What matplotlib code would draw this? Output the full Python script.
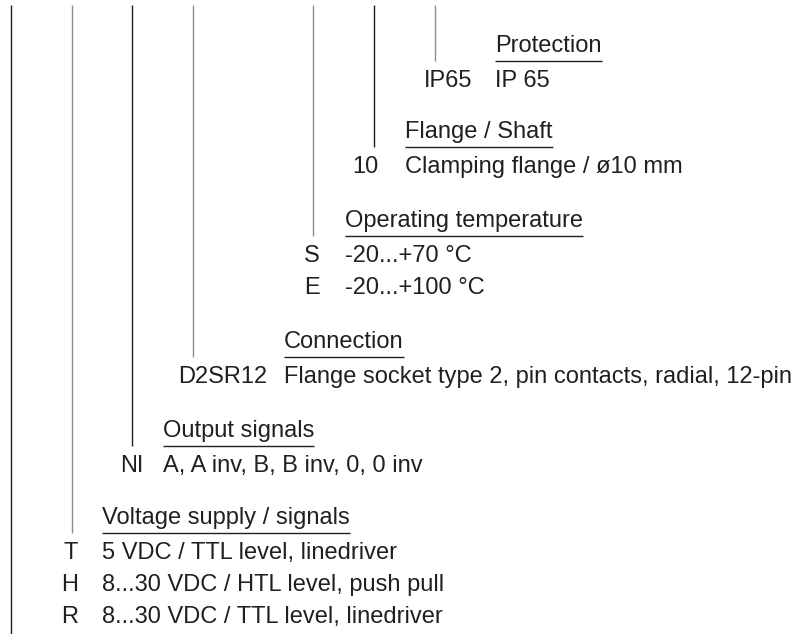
import matplotlib
matplotlib.use('Agg')
import matplotlib.pyplot as plt

plt.rcParams['font.family'] = ['Liberation Sans', 'DejaVu Sans']

# ordering key: one block per position of the type code, right to left
headers = ['Protection', 'Flange / Shaft', 'Operating temperature',
           'Connection', 'Output signals', 'Voltage supply / signals']
codes = [['IP65'], ['10'], ['S', 'E'], ['D2SR12'], ['NI'], ['T', 'H', 'R']]
descriptions = [
    ['IP 65'],
    ['Clamping flange / ø10 mm'],
    ['-20...+70 °C', '-20...+100 °C'],
    ['Flange socket type 2, pin contacts, radial, 12-pin'],
    ['A, A inv, B, B inv, 0, 0 inv'],
    ['5 VDC / TTL level, linedriver', '8...30 VDC / HTL level, push pull',
     '8...30 VDC / TTL level, linedriver'],
]

# layout in pixels (origin top left)
line_x = [435, 374, 313, 193, 132, 72]
line_col = ['#8c8c8c', '#231f20', '#8c8c8c', '#8c8c8c', '#231f20', '#8c8c8c']
rule_y = [61, 147, 236, 357, 446, 533]
head_x = [495, 405, 345, 284, 163, 102]
code_x = [472, 378, 320, 267, 143, 78]
row_step = 32
ink = '#231f20'
fs = 17

fig = plt.figure(figsize=(8.02, 6.34), dpi=100)
ax = fig.add_axes([0, 0, 1, 1])
ax.set_xlim(0, 802)
ax.set_ylim(634, 0)
ax.axis('off')

# leftmost guide line continues past the bottom
ax.plot([11, 11], [5, 634], color=ink, lw=1, solid_capstyle='butt')

head_texts = []
for i, head in enumerate(headers):
    ax.plot([line_x[i], line_x[i]], [5, rule_y[i]], color=line_col[i], lw=1,
            solid_capstyle='butt')
    t = ax.text(head_x[i], rule_y[i] - 9, head, fontsize=fs, color=ink,
                ha='left', va='baseline')
    head_texts.append(t)
    for j, (c, d) in enumerate(zip(codes[i], descriptions[i])):
        y = rule_y[i] + 26 + j * row_step
        ax.text(code_x[i], y, c, fontsize=fs, color=ink, ha='right',
                va='baseline')
        ax.text(head_x[i], y, d, fontsize=fs, color=ink, ha='left',
                va='baseline')

# underline each header to its text width
fig.canvas.draw()
inv = ax.transData.inverted()
for i, t in enumerate(head_texts):
    bb = t.get_window_extent()
    x1 = inv.transform((bb.x1, bb.y0))[0]
    ax.plot([head_x[i], x1], [rule_y[i], rule_y[i]], color=ink, lw=1,
            solid_capstyle='butt')

fig.savefig('out.png', dpi=100)
